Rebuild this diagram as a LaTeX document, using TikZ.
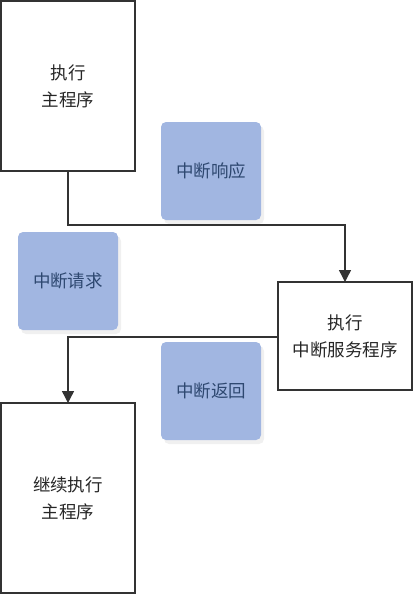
\documentclass[tikz,border=0pt]{standalone}
\usepackage{fontspec}
\setmainfont{Noto Sans CJK SC}
\usetikzlibrary{arrows.meta,shadows}
\definecolor{boxblue}{HTML}{A1B6E1}
\definecolor{textblue}{HTML}{2E4870}
\definecolor{linegray}{HTML}{333333}
\tikzset{
  procbox/.style={draw=linegray, line width=1.4pt, fill=white},
  tagbox/.style={fill=boxblue, rounded corners=5pt, draw=none,
    drop shadow={opacity=0.12, shadow xshift=3pt, shadow yshift=-4pt}},
  proctext/.style={font=\fontsize{17.5}{27}\selectfont, text=black!85, align=center},
  tagtext/.style={font=\fontsize{17.5}{20}\selectfont, text=textblue, align=center},
  conn/.style={draw=linegray, line width=1.4pt},
  connarrow/.style={conn, -{Triangle[length=12pt,width=12pt]}}
}
\begin{document}
\begin{tikzpicture}[x=1pt,y=-1pt]
\useasboundingbox (0,0) rectangle (414,595);
% process boxes
\draw[procbox] (1,1) rectangle (135,171);
\node[proctext] (main) at (68,86) {执行\\主程序};
\coordinate (mainbot) at (68,171);
\draw[procbox] (278,282) rectangle (412,390);
\node[proctext] (isr) at (345,336) {执行\\中断服务程序};
\coordinate (isrtop) at (345,282);
\coordinate (isrleft) at (278,337);
\draw[procbox] (1,403) rectangle (135,593);
\node[proctext] (cont) at (68,498) {继续执行\\主程序};
\coordinate (conttop) at (68,403);
% tag boxes
\fill[tagbox] (161,122) rectangle (261,220);
\node[tagtext] (resp) at (211,171) {中断响应};
\fill[tagbox] (18,232) rectangle (118,330);
\node[tagtext] (req) at (68,281) {中断请求};
\fill[tagbox] (161,342) rectangle (261,440);
\node[tagtext] (ret) at (211,391) {中断返回};
% connectors
\draw[connarrow] (mainbot) -- (68,225) -- (345,225) -- (isrtop);
\draw[connarrow] (isrleft) -- (68,337) -- (conttop);
\end{tikzpicture}
\end{document}
